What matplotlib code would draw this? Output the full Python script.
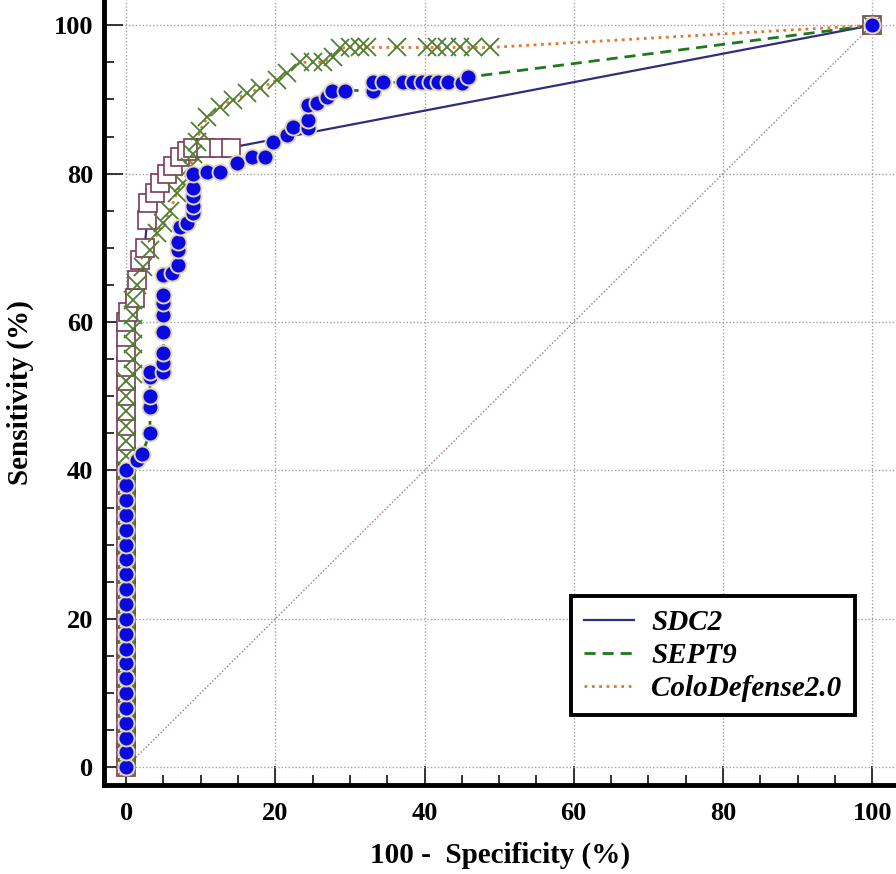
import matplotlib
matplotlib.use("Agg")
import matplotlib.pyplot as plt

# ROC points (x = 100 - specificity, y = sensitivity, both %)
sdc2_x = [0, 0, 0, 0, 0, 0, 0, 0, 0, 0, 0, 0, 0, 0, 0, 0, 0, 0, 0, 0, 0, 0, 0, 0, 0, 0, 0, 0, 0, 0, 0,
          0.3, 1.2, 1.5, 1.9, 2.5, 2.8, 3.0, 3.9, 4.6, 5.5, 6.3, 7.2, 8.1, 9.0, 10.7, 12.4, 14.0, 100]
sdc2_y = [0, 2, 4, 6, 8, 10, 12, 14, 16, 18, 20, 22, 24, 26, 28, 30, 32, 34, 36, 38, 40, 42, 44, 46,
          48, 50, 52, 54, 56, 58, 60,
          61.3, 63.3, 65.6, 68.3, 70.0, 73.7, 76.0, 77.4, 78.7, 80.0, 81.0, 82.2, 83.0, 83.5, 83.5,
          83.5, 83.5, 100]

sept9_x = [0, 0, 0, 0, 0, 0, 0, 0, 0, 0, 0, 0, 0, 0, 0, 0, 0, 0, 0, 0, 0,
           1.5, 2.1, 3.2, 3.2, 3.2, 3.2, 3.2, 5.0, 5.0, 5.0, 5.0, 5.0, 5.0, 5.0, 5.0, 6.2, 7.0, 7.0,
           7.0, 7.2, 8.2, 9.0, 9.0, 9.0, 9.0, 9.0, 10.9, 12.6, 14.9, 16.9, 18.6, 19.7, 21.6, 22.4,
           24.4, 24.4, 24.4, 25.6, 26.9, 27.6, 29.4, 33.1, 33.1, 34.4, 37.1, 38.5, 39.7, 40.8, 41.8,
           43.2, 45.0, 45.8, 100]
sept9_y = [0, 2, 4, 6, 8, 10, 12, 14, 16, 18, 20, 22, 24, 26, 28, 30, 32, 34, 36, 38, 40,
           41.4, 42.2, 45.0, 48.5, 50.0, 52.6, 53.3, 53.3, 54.5, 55.8, 58.6, 60.9, 62.5, 63.6, 66.3,
           66.6, 67.7, 69.7, 70.8, 72.8, 73.4, 74.7, 75.7, 77.0, 78.0, 80.0, 80.2, 80.2, 81.4, 82.2,
           82.2, 84.2, 85.2, 86.3, 86.1, 87.2, 89.2, 89.5, 90.3, 91.2, 91.2, 91.2, 92.3, 92.3, 92.3,
           92.3, 92.3, 92.3, 92.3, 92.3, 92.2, 93.0, 100]

colo_x = [0, 0, 0, 0, 0, 0, 0, 0, 0, 0, 0, 0, 0, 0, 0, 0, 0, 0, 0, 0, 0, 0, 0, 0, 0, 0, 0,
          0.9, 0.9, 0.9, 0.9, 0.9, 0.9, 1.5, 2.3, 3.2, 4.2, 5.0, 5.9, 6.8, 7.6, 8.6, 9.0, 9.5, 9.9,
          10.9, 12.6, 14.3, 16.2, 18.0, 20.2, 21.6, 23.3, 25.0, 26.4, 27.7, 28.7, 30.0, 31.4, 32.3,
          36.3, 40.3, 41.7, 43.0, 44.8, 46.5, 48.8, 100]
colo_y = [0, 2, 4, 6, 8, 10, 12, 14, 16, 18, 20, 22, 24, 26, 28, 30, 32, 34, 36, 38, 40, 42, 44,
          46, 48, 50, 52,
          53, 55, 57, 59, 61, 63, 65.0, 67.4, 69.7, 72.0, 73.3, 75.0, 77.4, 78.7, 80.9, 82.7, 84.3,
          85.8, 87.6, 89.0, 89.9, 90.8, 91.5, 92.6, 93.5, 95.0, 95.0, 95.0, 95.7, 96.9, 97.0, 97.0,
          97.0, 97.0, 97.0, 97.0, 97.0, 97.0, 97.0, 97.0, 100]

names = ["SDC2", "SEPT9", "ColoDefense2.0"]

serif = ["Liberation Serif", "DejaVu Serif"]

fig = plt.figure(figsize=(8.96, 8.74), dpi=100)
ax = fig.add_axes([0.1166, 0.1018, 0.8834, 0.8982])

# reference diagonal
ax.plot([0, 100], [0, 100], ls=(0, (1, 1.5)), color="#a07878", lw=1, zorder=1)

# lines
ax.plot(sdc2_x, sdc2_y, "-", color="#2e2e7a", lw=1.6, label=names[0], zorder=2)
ax.plot(sept9_x, sept9_y, "--", color="#1c7a1c", lw=2, dashes=(4, 2.5), label=names[1], zorder=2)
ax.plot(colo_x, colo_y, ":", color="#e07a30", lw=2, label=names[2], zorder=2)

# markers
ax.plot(sdc2_x, sdc2_y, "s", ms=13, mfc="white", mec="#7a3a5a", mew=1.2, ls="none",
        zorder=3, clip_on=False)
ax.plot(colo_x, colo_y, "x", ms=13, mec="#4f7f30", mew=1.3, ls="none", zorder=4)
ax.plot(sept9_x, sept9_y, "o", ms=11.5, mfc="#0a0ae0", mec="#e2d6b8", mew=1.4, ls="none", zorder=5)

ax.set_xlim(-2.9, 103.2)
ax.set_ylim(-2.4, 103.4)
ax.set_xticks([0, 20, 40, 60, 80, 100])
ax.set_yticks([0, 20, 40, 60, 80, 100])
ax.set_xticks(range(0, 101, 5), minor=True)
ax.set_yticks(range(0, 101, 5), minor=True)

ax.grid(True, which="major", ls=(0, (1, 1.5)), color="#a0a0a0", lw=1)
ax.set_axisbelow(True)

for s in ["top", "right"]:
    ax.spines[s].set_visible(False)
for s in ["left", "bottom"]:
    ax.spines[s].set_linewidth(3.5)
    ax.spines[s].set_color("black")

ax.tick_params(which="major", direction="in", length=14, width=1.4, color="#333333")
ax.tick_params(which="minor", direction="in", length=7.5, width=1.4, color="#333333")
ax.tick_params(axis="x", which="major", pad=12)
ax.tick_params(axis="y", which="major", pad=8)

for lab in ax.get_xticklabels() + ax.get_yticklabels():
    lab.set_fontfamily(serif)
    lab.set_fontweight("bold")
    lab.set_fontsize(19)

ax.set_xlabel("100 -  Specificity (%)", fontfamily=serif, fontweight="bold", fontsize=21, labelpad=12)
ax.set_ylabel("Sensitivity (%)", fontfamily=serif, fontweight="bold", fontsize=21, labelpad=14)

leg = ax.legend(loc="lower right", bbox_to_anchor=(0.948, 0.089), borderaxespad=0,
                prop={"family": serif, "weight": "bold", "style": "italic", "size": 21},
                fancybox=False, framealpha=1, edgecolor="black", handlelength=1.7,
                borderpad=0.45, labelspacing=0.2, handletextpad=0.6)
leg.get_frame().set_linewidth(2.8)

fig.savefig("out.png", dpi=100)
